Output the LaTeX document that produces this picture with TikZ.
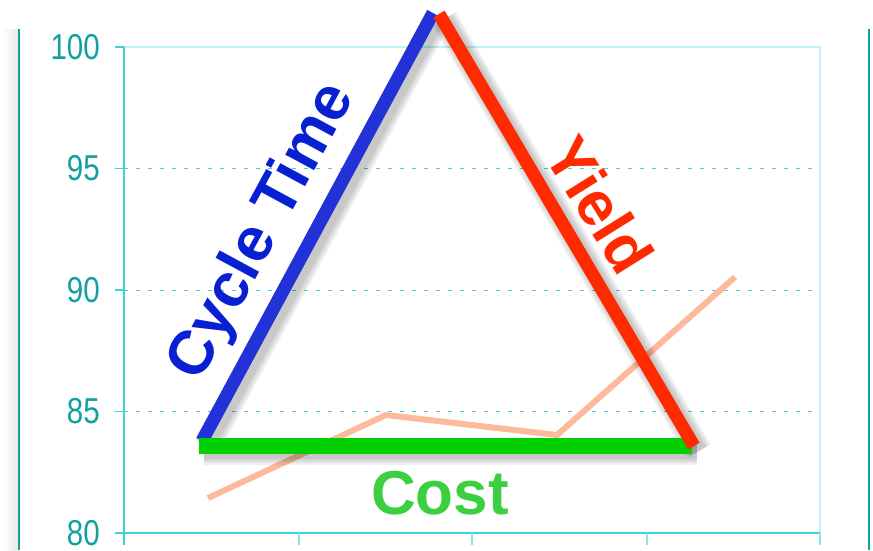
\documentclass[tikz,border=0pt]{standalone}
\usepackage{fontspec}
\setmainfont{Liberation Sans}
\newfontfamily\axisfont[FakeStretch=0.82]{Liberation Sans}
\usetikzlibrary{positioning}

\definecolor{axteal}{RGB}{16,160,160}
\definecolor{gridteal}{RGB}{64,208,216}
\definecolor{paleteal}{RGB}{190,244,248}
\definecolor{ctblue}{RGB}{35,50,214}
\definecolor{cttext}{RGB}{8,32,210}
\definecolor{yred}{RGB}{255,42,0}
\definecolor{cgreen}{RGB}{0,208,0}
\definecolor{ctxt}{RGB}{60,208,64}
\definecolor{salmon}{RGB}{253,185,155}

\begin{document}
\begin{tikzpicture}[x=1pt,y=-1pt,
    ylab/.style={anchor=east, inner sep=0pt, text=axteal,
      font=\axisfont\fontsize{36}{36}\selectfont},
    bigtxt/.style={inner sep=0pt, font=\fontsize{62}{64}\selectfont\bfseries},
    barshade/.style={draw=black, opacity=0.06, line width=#1,
      transform canvas={shift={(5pt,-5pt)}}}]
  \useasboundingbox (0,0) rectangle (873,550);

  % frame
  \shade[left color=white, right color=black!8] (2,29) rectangle (18,550);
  \draw[axteal, line width=2.5pt] (19,29) -- (19,550);
  \draw[axteal, line width=2.5pt] (869,29) -- (869,550);

  % axes and grid
  \draw[paleteal, line width=1.2pt] (124,47) -- (820,47) -- (820,533);
  \foreach \v in {85,90,95} {
    \pgfmathsetmacro\yy{533-(\v-80)*24.3}
    \draw[gridteal, line width=1pt, dash pattern=on 4pt off 8pt] (124,\yy) -- (820,\yy);
  }
  \foreach \v in {80,85,...,100} {
    \pgfmathsetmacro\yy{533-(\v-80)*24.3}
    \draw[gridteal, line width=1.3pt] (115,\yy) -- (124,\yy);
    \node[ylab] (lab\v) at (100,\yy) {\v};
  }
  \draw[gridteal, line width=1.5pt] (124,47) -- (124,545);
  \draw[gridteal, line width=1.5pt] (115,533) -- (820,533);
  \foreach \x in {299,472,647,820}
    \draw[gridteal!60, line width=1.3pt] (\x,533) -- (\x,545);

  % data line
  \draw[salmon, line width=6pt] (208,498) -- (386,415) -- (557,435) -- (735,277);

  % triangle
  \coordinate (cb) at (202,441);
  \coordinate (ct) at (433,13);
  \coordinate (yt) at (439,14);
  \coordinate (yb) at (694,446);
  \coordinate (gl) at (199,446);
  \coordinate (gr) at (692,446);

  \foreach \w in {15,19,23,27} {
    \draw[barshade=\w] (cb) -- (ct);
    \draw[barshade=\w] (yt) -- (yb);
    \draw[barshade=\w] (gl) -- (gr);
  }
  \draw[ctblue, line width=13pt] (cb) -- (ct);
  \draw[cgreen, line width=16pt] (gl) -- (gr);
  \draw[yred, line width=13pt] (yt) -- (yb);

  \node[bigtxt, text=cttext, rotate=61.6] (cycle) at (263,232) {Cycle Time};
  \node[bigtxt, text=yred, rotate=-58] (yield) at (600,205) {Yield};
  \node[bigtxt, text=ctxt] (cost) at (440,493) {Cost};
\end{tikzpicture}
\end{document}
